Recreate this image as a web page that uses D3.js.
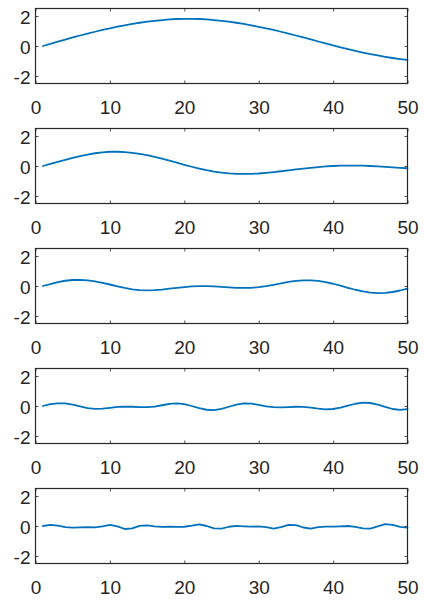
<!DOCTYPE html>
<html>
<head>
<meta charset="utf-8">
<script src="https://cdn.jsdelivr.net/npm/d3@7"></script>
<style>
  html, body { margin: 0; padding: 0; background: #ffffff; }
  svg { display: block; }
  .tick-label { font-family: "Liberation Sans", Arial, Helvetica, sans-serif; font-size: 19px; fill: #262626; }
</style>
</head>
<body>
<svg id="chart" width="424" height="601"></svg>
<script>
// Sample index shared by every panel
const xValues = d3.range(1, 51);

// One component per panel, top to bottom
const component1 = [0.00, 0.14, 0.29, 0.43, 0.57, 0.70, 0.83, 0.95, 1.07, 1.18,
  1.29, 1.38, 1.47, 1.55, 1.62, 1.68, 1.73, 1.77, 1.80, 1.81,
  1.81, 1.80, 1.77, 1.73, 1.68, 1.62, 1.55, 1.47, 1.38, 1.28,
  1.18, 1.07, 0.95, 0.83, 0.70, 0.57, 0.44, 0.30, 0.17, 0.04,
  -0.09, -0.21, -0.33, -0.44, -0.54, -0.63, -0.72, -0.80, -0.87, -0.93];

const component2 = [0.00, 0.14, 0.28, 0.41, 0.54, 0.66, 0.76, 0.85, 0.91, 0.95,
  0.95, 0.93, 0.88, 0.81, 0.72, 0.61, 0.49, 0.36, 0.22, 0.08,
  -0.05, -0.17, -0.28, -0.37, -0.44, -0.49, -0.52, -0.53, -0.52, -0.50,
  -0.46, -0.41, -0.35, -0.29, -0.23, -0.17, -0.12, -0.07, -0.03, 0.00,
  0.02, 0.03, 0.03, 0.02, 0.00, -0.03, -0.06, -0.09, -0.12, -0.15];

const component3 = [0.00, 0.13, 0.26, 0.35, 0.40, 0.41, 0.38, 0.31, 0.21, 0.10,
  -0.02, -0.13, -0.22, -0.27, -0.29, -0.28, -0.24, -0.18, -0.12, -0.07,
  -0.03, -0.01, -0.01, -0.03, -0.06, -0.09, -0.12, -0.13, -0.12, -0.08,
  -0.01, 0.08, 0.18, 0.27, 0.34, 0.38, 0.38, 0.34, 0.26, 0.15,
  0.02, -0.12, -0.25, -0.36, -0.44, -0.47, -0.46, -0.40, -0.30, -0.18];

const component4 = [0.00, 0.12, 0.18, 0.17, 0.09, -0.03, -0.14, -0.19, -0.18, -0.12,
  -0.06, -0.04, -0.05, -0.08, -0.08, -0.04, 0.05, 0.14, 0.17, 0.12,
  0.00, -0.14, -0.25, -0.27, -0.19, -0.05, 0.09, 0.17, 0.16, 0.08,
  -0.02, -0.08, -0.09, -0.07, -0.05, -0.06, -0.11, -0.18, -0.22, -0.20,
  -0.11, 0.02, 0.15, 0.22, 0.20, 0.09, -0.06, -0.20, -0.26, -0.21];

const component5 = [0.00, 0.08, 0.03, -0.08, -0.11, -0.09, -0.08, -0.09, -0.02, 0.07,
  -0.02, -0.20, -0.16, 0.01, 0.04, -0.03, -0.06, -0.05, -0.06, -0.05,
  0.02, 0.11, 0.00, -0.16, -0.18, -0.05, 0.01, -0.02, -0.04, -0.03,
  -0.08, -0.17, -0.07, 0.08, 0.06, -0.10, -0.17, -0.08, -0.04, -0.04,
  -0.02, 0.00, -0.06, -0.16, -0.17, -0.02, 0.12, 0.07, -0.06, -0.11];

const panels = [component1, component2, component3, component4, component5];

// Axis settings
const xDomain = [0, 50];
const yDomain = [-2.5, 2.5];
const xTicks = [0, 10, 20, 30, 40, 50];
const yTicks = [-2, 0, 2];

const lineColor = "#0072BD";
const axisColor = "#262626";

const svg = d3.select("#chart");

const left = 35.5, right = 407.5;
const panelHeight = 75;
const firstTop = 8.5, step = 120;
const tickLen = 3;

// Plain hyphen-minus for negative tick labels
const plainFormat = d => String(d);

const x = d3.scaleLinear().domain(xDomain).range([left, right]);

panels.forEach((values, i) => {
  const top = firstTop + i * step;
  const bottom = top + panelHeight;
  const y = d3.scaleLinear().domain(yDomain).range([bottom, top]);

  const g = svg.append("g");

  // Data line
  const line = d3.line()
    .x((d, k) => x(xValues[k]))
    .y(d => y(d));
  g.append("path")
    .datum(values)
    .attr("d", line)
    .attr("fill", "none")
    .attr("stroke", lineColor)
    .attr("stroke-width", 1.8)
    .attr("stroke-linejoin", "round")
    .attr("stroke-linecap", "round");

  // Bottom axis with inward ticks and labels
  const xAxis = g.append("g")
    .attr("transform", `translate(0,${bottom})`)
    .call(d3.axisBottom(x).tickValues(xTicks).tickSize(-tickLen).tickPadding(8).tickFormat(plainFormat));
  xAxis.select(".domain").remove();
  xAxis.selectAll("line").attr("stroke", axisColor).attr("stroke-width", 0.8);
  xAxis.selectAll("text").attr("class", "tick-label").attr("dy", "1em").attr("y", 11);

  // Top axis ticks (no labels)
  const xTop = g.append("g")
    .attr("transform", `translate(0,${top})`)
    .call(d3.axisTop(x).tickValues(xTicks).tickSize(-tickLen).tickFormat(""));
  xTop.select(".domain").remove();
  xTop.selectAll("line").attr("stroke", axisColor).attr("stroke-width", 0.8);

  // Left axis with inward ticks and labels
  const yAxis = g.append("g")
    .attr("transform", `translate(${left},0)`)
    .call(d3.axisLeft(y).tickValues(yTicks).tickSize(-tickLen).tickPadding(6).tickFormat(plainFormat));
  yAxis.select(".domain").remove();
  yAxis.selectAll("line").attr("stroke", axisColor).attr("stroke-width", 0.8);
  yAxis.selectAll("text").attr("class", "tick-label").attr("x", -5).attr("dy", "0.42em");

  // Right axis ticks (no labels)
  const yRight = g.append("g")
    .attr("transform", `translate(${right},0)`)
    .call(d3.axisRight(y).tickValues(yTicks).tickSize(-tickLen).tickFormat(""));
  yRight.select(".domain").remove();
  yRight.selectAll("line").attr("stroke", axisColor).attr("stroke-width", 0.8);

  // Box outline
  g.append("rect")
    .attr("x", left)
    .attr("y", top)
    .attr("width", right - left)
    .attr("height", panelHeight)
    .attr("fill", "none")
    .attr("stroke", axisColor)
    .attr("stroke-width", 1.2);
});
</script>
</body>
</html>
